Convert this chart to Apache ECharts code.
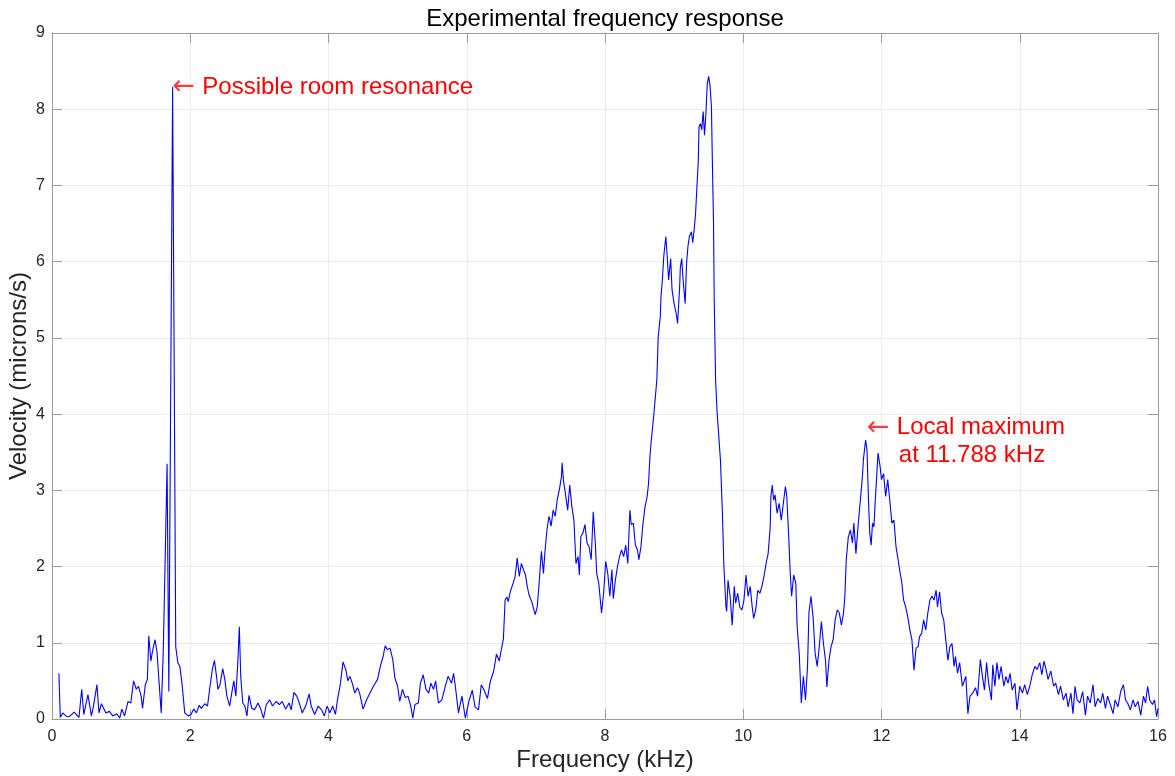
<!DOCTYPE html>
<html>
<head>
<meta charset="utf-8">
<script src="https://cdn.jsdelivr.net/npm/echarts@6/dist/echarts.min.js"></script>
<style>
html,body{margin:0;padding:0;background:#fff;}
#chart{width:1175px;height:776px;}
</style>
</head>
<body>
<div id="chart"></div>
<script>
// Frequency (kHz) and velocity (microns/s)
var freq = [
0.10,0.12,0.155,0.20,0.25,0.32,0.39,0.43,0.46,0.52,0.57,0.60,0.65,0.68,0.715,0.78,0.83,0.88,0.94,0.98,
1.01,1.05,1.10,1.14,1.18,1.22,1.25,1.29,1.31,1.35,1.38,1.40,1.43,1.45,1.49,1.52,1.55,1.58,1.61,1.665,
1.69,1.745,1.79,1.80,1.82,1.85,1.88,1.92,1.97,2.01,2.05,2.09,2.13,2.16,2.21,2.25,2.28,2.32,2.35,2.38,
2.40,2.43,2.47,2.50,2.53,2.57,2.60,2.63,2.66,2.69,2.71,2.73,2.76,2.79,2.82,2.85,2.89,2.93,2.98,3.02,
3.06,3.10,3.15,3.19,3.24,3.29,3.33,3.38,3.43,3.46,3.50,3.54,3.57,3.62,3.67,3.72,3.75,3.80,3.85,3.90,
3.94,3.98,4.02,4.06,4.10,4.13,4.17,4.21,4.25,4.28,4.31,4.35,4.38,4.42,4.45,4.50,4.55,4.60,4.65,4.71,
4.75,4.79,4.82,4.85,4.89,4.93,4.96,5.00,5.03,5.07,5.11,5.15,5.19,5.22,5.25,5.30,5.33,5.37,5.41,5.45,
5.48,5.52,5.55,5.59,5.64,5.69,5.73,5.78,5.81,5.84,5.88,5.93,5.98,6.03,6.08,6.12,6.17,6.21,6.25,6.30,
6.34,6.39,6.43,6.47,6.50,6.53,6.555,6.58,6.60,6.63,6.67,6.70,6.73,6.76,6.79,6.82,6.85,6.875,6.90,6.94,
6.96,6.99,7.02,7.05,7.08,7.11,7.13,7.16,7.19,7.22,7.25,7.28,7.31,7.34,7.37,7.38,7.40,7.43,7.46,7.49,
7.52,7.55,7.58,7.61,7.63,7.65,7.68,7.71,7.74,7.77,7.80,7.83,7.86,7.88,7.91,7.95,7.98,8.01,8.04,8.07,
8.10,8.12,8.15,8.18,8.21,8.24,8.27,8.30,8.33,8.36,8.38,8.41,8.44,8.47,8.49,8.52,8.55,8.58,8.61,8.63,
8.65,8.67,8.71,8.75,8.77,8.80,8.81,8.83,8.85,8.88,8.90,8.92,8.95,8.97,9.00,9.03,9.05,9.08,9.09,9.11,
9.13,9.16,9.18,9.20,9.22,9.25,9.27,9.29,9.31,9.33,9.35,9.36,9.38,9.40,9.42,9.44,9.46,9.48,9.50,9.52,
9.54,9.55,9.57,9.58,9.60,9.62,9.64,9.66,9.67,9.70,9.72,9.75,9.76,9.78,9.81,9.84,9.87,9.89,9.92,9.95,
9.98,10.01,10.04,10.07,10.10,10.13,10.15,10.18,10.21,10.24,10.27,10.30,10.33,10.36,10.39,10.40,10.42,10.44,10.46,10.49,
10.52,10.55,10.58,10.61,10.63,10.66,10.68,10.70,10.73,10.76,10.78,10.81,10.84,10.87,10.90,10.93,10.95,10.98,11.01,11.04,
11.07,11.10,11.13,11.16,11.19,11.21,11.24,11.27,11.30,11.33,11.36,11.39,11.42,11.45,11.47,11.49,11.52,11.55,11.58,11.60,
11.63,11.66,11.69,11.72,11.74,11.77,11.79,11.81,11.83,11.85,11.87,11.89,11.91,11.93,11.95,11.98,12.00,12.03,12.06,12.09,
12.12,12.15,12.18,12.21,12.24,12.27,12.29,12.32,12.35,12.38,12.41,12.44,12.47,12.50,12.53,12.55,12.58,12.61,12.64,12.67,
12.70,12.73,12.76,12.79,12.81,12.84,12.87,12.90,12.93,12.96,12.99,13.02,13.05,13.07,13.10,13.13,13.17,13.22,13.25,13.28,
13.32,13.36,13.39,13.43,13.46,13.49,13.52,13.55,13.59,13.61,13.64,13.67,13.70,13.73,13.77,13.80,13.83,13.86,13.89,13.93,
13.96,14.00,14.04,14.07,14.11,14.15,14.18,14.22,14.25,14.29,14.32,14.35,14.38,14.41,14.45,14.49,14.52,14.56,14.59,14.63,
14.67,14.70,14.74,14.77,14.80,14.83,14.87,14.91,14.95,14.98,15.02,15.06,15.09,15.13,15.17,15.20,15.24,15.27,15.31,15.35,
15.38,15.42,15.46,15.50,15.53,15.56,15.60,15.64,15.67,15.71,15.75,15.79,15.82,15.85,15.88,15.92,15.95,15.98,16.00
];
var velocity = [
0.60,0.02,0.08,0.04,0.03,0.09,0.02,0.39,0.06,0.32,0.04,0.17,0.45,0.08,0.20,0.08,0.10,0.04,0.07,0.01,
0.13,0.04,0.23,0.21,0.50,0.39,0.43,0.30,0.14,0.45,0.52,1.09,0.76,0.87,1.04,0.87,0.47,0.08,0.90,3.35,
0.36,8.29,0.95,0.93,0.74,0.69,0.47,0.08,0.04,0.06,0.13,0.08,0.18,0.14,0.20,0.17,0.39,0.65,0.77,0.56,
0.39,0.45,0.66,0.52,0.30,0.17,0.34,0.50,0.30,0.78,1.21,0.56,0.21,0.17,0.04,0.31,0.14,0.12,0.21,0.13,
0.01,0.19,0.25,0.17,0.23,0.19,0.23,0.13,0.21,0.12,0.35,0.30,0.23,0.08,0.17,0.33,0.17,0.06,0.17,0.12,
0.04,0.17,0.08,0.17,0.06,0.25,0.45,0.75,0.65,0.50,0.56,0.45,0.34,0.41,0.34,0.13,0.25,0.34,0.43,0.52,
0.69,0.82,0.96,0.91,0.93,0.78,0.54,0.43,0.23,0.39,0.28,0.30,0.17,0.01,0.19,0.21,0.47,0.58,0.39,0.34,
0.47,0.39,0.50,0.21,0.25,0.43,0.56,0.47,0.60,0.39,0.08,0.30,0.01,0.23,0.38,0.16,0.12,0.45,0.38,0.27,
0.49,0.63,0.85,0.76,0.91,1.05,1.56,1.60,1.54,1.67,1.78,1.87,2.11,1.87,2.04,1.96,1.89,1.74,1.63,1.54,
1.47,1.37,1.47,1.82,2.20,1.91,2.18,2.48,2.66,2.53,2.74,2.66,2.88,3.01,3.18,3.36,3.12,2.94,2.74,3.07,
2.79,2.61,2.04,2.13,1.89,2.39,2.44,2.55,2.31,2.26,2.09,2.72,2.31,1.91,1.78,1.39,1.65,2.07,1.91,1.61,
1.96,1.58,1.82,2.00,2.13,2.22,2.13,2.28,2.04,2.74,2.55,2.57,2.28,2.22,2.09,2.26,2.57,2.79,2.92,3.09,
3.44,3.66,4.03,4.45,5.02,5.28,5.54,5.76,6.07,6.33,6.07,5.76,6.04,5.63,5.45,5.32,5.19,5.67,5.93,6.04,
5.76,5.45,5.98,6.20,6.33,6.39,6.25,6.42,6.63,6.98,7.33,7.77,7.81,7.73,7.97,7.66,7.95,8.34,8.43,8.30,
8.03,7.47,6.50,5.50,4.45,4.05,3.79,3.53,3.40,2.66,2.00,1.47,1.41,1.82,1.61,1.23,1.74,1.52,1.65,1.47,
1.43,1.56,1.89,1.61,1.74,1.47,1.32,1.43,1.69,1.65,1.74,1.87,2.04,2.17,2.52,2.92,3.07,2.87,2.94,2.70,
2.83,2.61,2.83,3.05,2.92,2.35,1.91,1.61,1.89,1.78,1.21,0.86,0.21,0.56,0.25,0.69,1.39,1.61,1.34,0.86,
0.69,0.95,1.28,0.99,0.77,0.42,0.77,0.95,1.04,1.30,1.43,1.39,1.23,1.39,1.61,2.09,2.39,2.48,2.31,2.57,
2.17,2.52,2.83,3.14,3.42,3.66,3.53,2.92,2.44,2.28,2.57,2.52,2.87,3.18,3.49,3.31,3.14,3.22,2.92,3.14,
2.87,2.57,2.61,2.26,2.09,1.91,1.82,1.56,1.47,1.34,1.17,1.04,0.64,0.93,0.95,1.08,1.12,1.30,1.17,1.39,
1.56,1.61,1.56,1.69,1.47,1.67,1.39,1.30,1.04,0.77,0.95,0.99,0.69,0.82,0.60,0.74,0.43,0.56,0.07,0.30,
0.34,0.41,0.30,0.78,0.56,0.38,0.74,0.47,0.25,0.71,0.43,0.74,0.52,0.69,0.43,0.56,0.47,0.60,0.38,0.47,
0.12,0.43,0.34,0.45,0.32,0.45,0.58,0.69,0.65,0.74,0.58,0.76,0.65,0.52,0.63,0.43,0.47,0.32,0.43,0.25,
0.34,0.16,0.34,0.07,0.43,0.25,0.21,0.36,0.05,0.30,0.21,0.45,0.16,0.27,0.21,0.34,0.14,0.30,0.19,0.07,
0.25,0.16,0.36,0.45,0.25,0.21,0.12,0.25,0.16,0.23,0.05,0.30,0.21,0.43,0.25,0.19,0.25,0.03,0.14
];
var xTicks = [0, 2, 4, 6, 8, 10, 12, 14, 16];
var yTicks = [0, 1, 2, 3, 4, 5, 6, 7, 8, 9];
var annotations = [
  {f: 1.74, v: 8.29, lines: ['Possible room resonance']},
  {f: 11.788, v: 3.64, lines: ['Local maximum', 'at 11.788 kHz']}
];

var FONT = '"Liberation Sans", Arial, Helvetica, sans-serif';
var ARROW_FONT = '"DejaVu Sans", sans-serif';
var seriesData = freq.map(function (f, i) { return [f, velocity[i]]; });

var axisColor = '#9a9a9a';
var gridColor = '#ebebeb';
var labelColor = '#262626';

var richStyles = {
  arrow: {fontFamily: ARROW_FONT, fontSize: 27, color: '#ff3b3b', width: 30, align: 'left', lineHeight: 28},
  pad: {fontSize: 24, width: 32, lineHeight: 28},
  t: {fontFamily: FONT, fontSize: 24, color: '#ff0000', lineHeight: 28}
};

function xAxisCfg(pos, main) {
  return {
    type: 'value', position: pos, min: xTicks[0], max: xTicks[xTicks.length - 1],
    interval: xTicks[1] - xTicks[0],
    axisLine: {show: true, onZero: false, lineStyle: {color: axisColor, width: 1}},
    axisTick: {show: true, inside: true, length: 10, lineStyle: {color: axisColor}},
    axisLabel: {show: main, color: labelColor, fontSize: 16, fontFamily: FONT, margin: 10},
    splitLine: {show: main, lineStyle: {color: gridColor, width: 1}},
    name: main ? 'Frequency (kHz)' : '',
    nameLocation: 'middle', nameGap: 29, nameMoveOverlap: false,
    nameTextStyle: {color: labelColor, fontSize: 24, fontFamily: FONT}
  };
}
function yAxisCfg(pos, main) {
  return {
    type: 'value', position: pos, min: yTicks[0], max: yTicks[yTicks.length - 1],
    interval: yTicks[1] - yTicks[0],
    axisLine: {show: true, onZero: false, lineStyle: {color: axisColor, width: 1}},
    axisTick: {show: true, inside: true, length: 10, lineStyle: {color: axisColor}},
    axisLabel: {show: main, color: labelColor, fontSize: 16, fontFamily: FONT, margin: 7},
    splitLine: {show: main, lineStyle: {color: gridColor, width: 1}},
    name: main ? 'Velocity (microns/s)' : '',
    nameLocation: 'middle', nameGap: 21, nameMoveOverlap: false,
    nameTextStyle: {color: labelColor, fontSize: 24, fontFamily: FONT}
  };
}

var chart = echarts.init(document.getElementById('chart'), null, {renderer: 'canvas'});
chart.setOption({
  animation: false,
  backgroundColor: '#ffffff',
  title: {
    text: 'Experimental frequency response',
    left: 600, top: 2, textAlign: 'center',
    textStyle: {color: '#000', fontSize: 24, fontWeight: 'normal', fontFamily: FONT}
  },
  grid: {left: 52, right: 17, top: 33, bottom: 57, containLabel: false, outerBoundsMode: 'none'},
  xAxis: [xAxisCfg('bottom', true), xAxisCfg('top', false)],
  yAxis: [yAxisCfg('left', true), yAxisCfg('right', false)],
  series: [{
    type: 'line',
    data: seriesData,
    xAxisIndex: 0, yAxisIndex: 0,
    showSymbol: false,
    symbol: 'none',
    lineStyle: {color: '#0000ff', width: 1.1},
    itemStyle: {color: '#0000ff'},
    markPoint: {
      symbol: 'circle', symbolSize: 0,
      silent: true,
      data: [
        {
          coord: [annotations[0].f, annotations[0].v],
          label: {show: true, position: 'right', distance: 0,
            formatter: '{arrow|\u2190}{t|' + annotations[0].lines[0] + '}',
            rich: richStyles}
        },
        {
          coord: [annotations[1].f, annotations[1].v],
          label: {show: true, position: 'right', distance: 0,
            formatter: '{arrow|\u2190}{t|' + annotations[1].lines[0] + '}\n{pad| }{t|' + annotations[1].lines[1] + '}',
            rich: richStyles}
        }
      ]
    }
  }]
});
</script>
</body>
</html>
